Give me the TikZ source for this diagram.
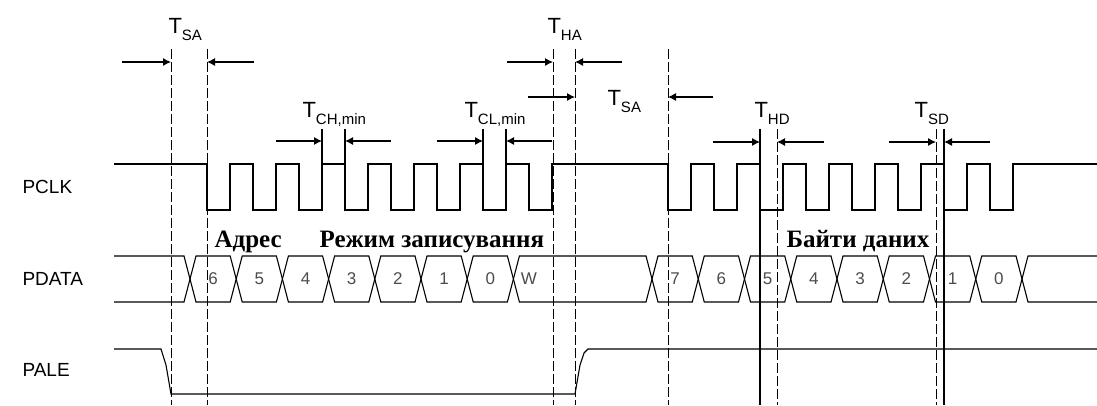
\documentclass[tikz,border=0pt]{standalone}
\usepackage{fontspec}
\setmainfont{Liberation Sans}
\newfontfamily\cyrfont{Liberation Serif}
\usetikzlibrary{arrows.meta}
\newcommand{\tsub}[1]{T\raisebox{-7pt}{\fontsize{15}{15}\selectfont#1}}
\begin{document}
\begin{tikzpicture}[
	x=1pt,y=-1pt,
	>={Latex[length=8pt,width=8pt]},
	line width=1.1pt,
	line join=miter,
	guide/.style={line width=0.9pt,dash pattern=on 10pt off 3pt},
	siglbl/.style={anchor=west,inner sep=0pt,font=\fontsize{19}{19}\selectfont},
	tlbl/.style={anchor=base west,inner sep=0pt,font=\fontsize{22}{22}\selectfont},
	bitlbl/.style={inner sep=0pt,text=black!70,font=\fontsize{17}{17}\selectfont},
	cyrlbl/.style={anchor=base west,inner sep=0pt,font=\cyrfont\bfseries\fontsize{25}{25}\selectfont}
	]
	\useasboundingbox (0,0) rectangle (1097,405);
	% signal names
	\node[siglbl] (pclk) at (22,187) {PCLK};
	\node[siglbl] (pdata) at (22,279) {PDATA};
	\node[siglbl] (pale) at (22,370) {PALE};
	% PCLK
	\draw (114,164) -- (207,164)
		\foreach \k in {0,...,7}{ -- ({207+46*\k},210) -- ({230+46*\k},210) -- ({230+46*\k},164) -- ({253+46*\k},164)}
		-- (668,164)
		\foreach \k in {0,...,7}{ -- ({668+46*\k},210) -- ({691+46*\k},210) -- ({691+46*\k},164) -- ({714+46*\k},164)}
		-- (1097,164);
	% PDATA
	\draw (114,256) -- (184,256) -- (190,279) -- (184,302) -- (114,302);
	\foreach \a/\b/\lbl/\p [count=\i] in {190/236.2/6/213.1, 236.2/282.4/5/259.3, 282.4/328.6/4/305.5,
		328.6/374.8/3/351.7, 374.8/421/2/397.9, 421/467.2/1/444.1, 467.2/513.4/0/490.3, 513.4/652/W/529,
		652/698.25/7/675.1, 698.25/744.5/6/721.4, 744.5/790.75/5/767.6, 790.75/837/4/813.9,
		837/883.25/3/860.1, 883.25/929.5/2/906.4, 929.5/975.75/1/952.6, 975.75/1022/0/998.9}{
		\draw (\a,279) -- (\a+6,256) -- (\b-6,256) -- (\b,279) -- (\b-6,302) -- (\a+6,302) -- cycle;
		\node[bitlbl] (bit\i) at (\p,279) {\lbl};
	}
	\draw (1097,256) -- (1028,256) -- (1022,279) -- (1028,302) -- (1097,302);
	% PALE
	\draw (114,349) -- (161,349) -- (166,365) -- (171,394) -- (575,394) -- (580,365) -- (584,353) -- (588,349) -- (1097,349);
	% timing marks
	\foreach \x in {171,207,553,575,668}
		\draw[guide] (\x,49) -- (\x,405);
	\foreach \x in {777,936}
		\draw[guide] (\x,129) -- (\x,405);
	\foreach \x in {760,944}
		\draw (\x,129) -- (\x,405);
	\foreach \x in {322,345,483,506}
		\draw (\x,129) -- (\x,164);
	\begin{scope}[->]
		\draw (122,62) -- (171,62);
		\draw (254,62) -- (207,62);
		\draw (507,62) -- (553,62);
		\draw (622,62) -- (575,62);
		\draw (528,97) -- (575,97);
		\draw (713,97) -- (668,97);
		\draw (276,141) -- (322,141);
		\draw (391,141) -- (345,141);
		\draw (437,141) -- (483,141);
		\draw (552,141) -- (506,141);
		\draw (713,142) -- (760,142);
		\draw (824,142) -- (777,142);
		\draw (889,142) -- (936,142);
		\draw (990,142) -- (944,142);
	\end{scope}
	\node[tlbl] (tsa) at (168,33) {\tsub{SA}};
	\node[tlbl] (tha) at (547,33) {\tsub{HA}};
	\node[tlbl] (tsb) at (607,105) {\tsub{SA}};
	\node[tlbl] (tch) at (302,117) {\tsub{CH,min}};
	\node[tlbl] (tcl) at (464,117) {\tsub{CL,min}};
	\node[tlbl] (thd) at (754,117) {\tsub{HD}};
	\node[tlbl] (tsd) at (914,117) {\tsub{SD}};
	\node[cyrlbl] (addr) at (214,247) {Адрес};
	\node[cyrlbl] (mode) at (319,247) {Режим записування};
	\node[cyrlbl] (bytes) at (786,247) {Байти даних};
\end{tikzpicture}
\end{document}
